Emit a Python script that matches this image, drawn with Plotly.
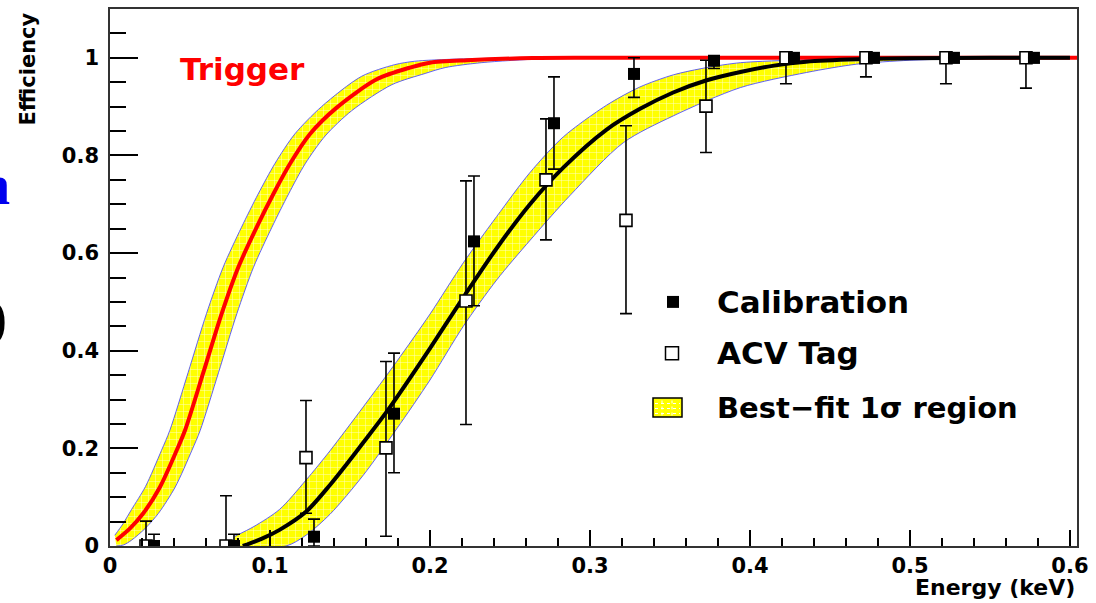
import plotly.graph_objects as go

# ---- Trigger efficiency fit (red) and its 1-sigma band edges ----
trig_e = [0.004, 0.0125, 0.0208, 0.03125, 0.0417, 0.0469, 0.0583, 0.0698, 0.0802,
          0.0917, 0.1021, 0.1125, 0.125, 0.1417, 0.1667, 0.1875, 0.2, 0.223,
          0.264, 0.3, 0.4, 0.5, 0.6044]
trig_eff = [0.012, 0.036, 0.067, 0.121, 0.196, 0.237, 0.355, 0.476, 0.571,
            0.653, 0.721, 0.783, 0.844, 0.898, 0.956, 0.98, 0.99, 0.995,
            0.9995, 1.0, 1.0, 1.0, 1.0]

trig_hi_e = [0.003, 0.008, 0.0135, 0.0222, 0.0322, 0.0374, 0.0488, 0.0603, 0.0707,
             0.0822, 0.0926, 0.103, 0.1155, 0.1322, 0.1572, 0.178, 0.1905, 0.213,
             0.25, 0.3, 0.6044]
trig_hi = [0.022, 0.045, 0.075, 0.122, 0.196, 0.237, 0.355, 0.476, 0.571,
           0.653, 0.721, 0.783, 0.844, 0.9, 0.962, 0.986, 0.993, 0.997,
           0.9995, 1.0, 1.0]

trig_lo_e = [0.004, 0.0083, 0.0135, 0.022, 0.0303, 0.0408, 0.0512, 0.0564, 0.0678,
             0.0793, 0.0897, 0.1012, 0.1116, 0.122, 0.1345, 0.1512, 0.1762, 0.197,
             0.2095, 0.232, 0.27, 0.3, 0.6044]
trig_lo = [0.0, 0.002, 0.012, 0.036, 0.067, 0.121, 0.196, 0.237, 0.355,
           0.476, 0.571, 0.653, 0.721, 0.783, 0.84, 0.892, 0.945, 0.968,
           0.98, 0.99, 0.998, 1.0, 1.0]

# ---- Best-fit efficiency curve (black) and its 1-sigma band edges ----
fit_e = [0.083, 0.095, 0.106, 0.1225, 0.1375, 0.148, 0.1583, 0.174, 0.2, 0.222,
         0.2417, 0.2625, 0.2833, 0.3104, 0.331, 0.352, 0.373, 0.394, 0.415, 0.435,
         0.467, 0.5, 0.55, 0.6]
fit_eff = [0.0, 0.015, 0.033, 0.07, 0.125, 0.168, 0.212, 0.28, 0.405, 0.515,
           0.61, 0.70, 0.775, 0.853, 0.895, 0.929, 0.954, 0.971, 0.984, 0.992,
           0.997, 0.999, 1.0, 1.0]

band_hi_e = [0.078, 0.09, 0.106, 0.1225, 0.1375, 0.1583, 0.1792, 0.2, 0.2208, 0.2417,
             0.2625, 0.2833, 0.3104, 0.331, 0.352, 0.373, 0.394, 0.435, 0.5, 0.6]
band_hi = [0.02, 0.04, 0.075, 0.135, 0.195, 0.285, 0.378, 0.475, 0.58, 0.675,
           0.765, 0.838, 0.903, 0.94, 0.965, 0.98, 0.99, 0.996, 1.0, 1.0]

band_lo_e = [0.078, 0.11, 0.1225, 0.1375, 0.1583, 0.1792, 0.2, 0.2208, 0.2417, 0.2625,
             0.2875, 0.3208, 0.352, 0.394, 0.4354, 0.4667, 0.5, 0.55, 0.6]
band_lo = [0.0, 0.0, 0.022, 0.065, 0.145, 0.24, 0.34, 0.45, 0.545, 0.626,
           0.718, 0.826, 0.881, 0.939, 0.97, 0.987, 0.995, 0.999, 1.0]

# ---- Measured points: value with lower / upper ends of the error bars ----
cal_e = [0.0275, 0.0775, 0.1275, 0.1775, 0.2275, 0.2775, 0.3275, 0.3775,
         0.4275, 0.4775, 0.5275, 0.5775]
cal_eff = [0.0, 0.0, 0.019, 0.271, 0.624, 0.866, 0.967, 0.994, 1.0, 1.0, 1.0, 1.0]
cal_top = [0.024, 0.024, 0.055, 0.395, 0.758, 0.961, 1.0, 1.0, 1.0, 1.0, 1.0, 1.0]
cal_bot = [0.0, 0.0, 0.0, 0.15, 0.492, 0.772, 0.919, 0.978, 0.99, 0.99, 0.99, 0.99]

acv_e = [0.0225, 0.0725, 0.1225, 0.1725, 0.2225, 0.2725, 0.3225, 0.3725,
         0.4225, 0.4725, 0.5225, 0.5725]
acv_eff = [0.0, 0.0, 0.181, 0.201, 0.502, 0.75, 0.667, 0.901, 1.0, 1.0, 1.0, 1.0]
acv_top = [0.051, 0.103, 0.298, 0.378, 0.748, 0.875, 0.861, 0.995, 1.0, 1.0, 1.0, 1.0]
acv_bot = [0.0, 0.0, 0.067, 0.02, 0.249, 0.627, 0.476, 0.806, 0.947, 0.961, 0.947, 0.938]

legend_labels = ["Calibration", "ACV Tag", "Best\u2212fit 1\u03c3 region"]
legend_sizes = [31, 31, 29]

YELLOW = "#ffff00"
EDGE = "rgba(70,70,255,0.85)"
FONT = "DejaVu Sans"

# frame geometry (pixels) used to place the in-frame legend box
W, H = 1096, 603
ML, MR, MT, MB = 110, 19, 7, 57
PW, PH = W - ML - MR, H - MT - MB


def px(x):
    return (x - ML) / PW


def py(y):
    return (H - MB - y) / PH


hatch = dict(shape="+", bgcolor=YELLOW, fgcolor="white", fgopacity=0.85,
             size=7, solidity=0.12, fillmode="replace")


def band(x_hi, y_hi, x_lo, y_lo):
    return go.Scatter(
        x=list(x_hi) + list(x_lo)[::-1],
        y=list(y_hi) + list(y_lo)[::-1],
        mode="lines", fill="toself", fillcolor=YELLOW, fillpattern=hatch,
        line=dict(color=EDGE, width=1, shape="spline", smoothing=0.8),
        hoverinfo="skip", showlegend=False,
    )


def errs(vals, top, bot):
    plus = [t - v for t, v in zip(top, vals)]
    minus = [v - b for v, b in zip(vals, bot)]
    return dict(type="data", symmetric=False, array=plus, arrayminus=minus,
                color="black", thickness=1.6, width=6)


fig = go.Figure()

fig.add_trace(band(trig_hi_e, trig_hi, trig_lo_e, trig_lo))
fig.add_trace(band(band_hi_e, band_hi, band_lo_e, band_lo))

fig.add_trace(go.Scatter(x=trig_e, y=trig_eff, mode="lines",
                         line=dict(color="#ff0000", width=4, shape="spline", smoothing=0.8),
                         showlegend=False, name="Trigger"))
fig.add_trace(go.Scatter(x=fit_e, y=fit_eff, mode="lines",
                         line=dict(color="black", width=4, shape="spline", smoothing=0.8),
                         showlegend=False, name="Best fit"))

fig.add_trace(go.Scatter(x=acv_e, y=acv_eff, mode="markers", error_y=errs(acv_eff, acv_top, acv_bot),
                         marker=dict(symbol="square", size=12, color="white",
                                     line=dict(color="black", width=1.6)),
                         showlegend=False, name="ACV Tag"))
fig.add_trace(go.Scatter(x=cal_e, y=cal_eff, mode="markers", error_y=errs(cal_eff, cal_top, cal_bot),
                         marker=dict(symbol="square", size=12, color="black"),
                         showlegend=False, name="Calibration"))

axis_common = dict(showgrid=False, zeroline=False, showline=True, mirror=True,
                   linecolor="#333333", linewidth=1.5, ticks="inside", tickcolor="black",
                   tickwidth=1.5, tickfont=dict(family=FONT, size=21, color="black", weight="bold"))

fig.update_xaxes(range=[0, 0.6044], dtick=0.1, tick0=0, ticklen=16, ticklabelstandoff=0,
                 minor=dict(dtick=0.02, ticklen=8, ticks="inside", tickcolor="black", tickwidth=1.5),
                 **axis_common)
fig.update_yaxes(range=[0, 1.1], dtick=0.2, tick0=0, ticklen=28, ticklabelstandoff=5,
                 minor=dict(dtick=0.05, ticklen=16, ticks="inside", tickcolor="black", tickwidth=1.5),
                 **axis_common)

# legend drawn inside the frame: symbols as small boxes, labels as text
leg_rows = [301, 352.5, 407]
leg_shapes = [
    dict(type="rect", xref="paper", yref="paper", x0=px(667), x1=px(679),
         y0=py(leg_rows[0] + 6), y1=py(leg_rows[0] - 6), fillcolor="black", line=dict(width=0)),
    dict(type="rect", xref="paper", yref="paper", x0=px(665.5), x1=px(678.5),
         y0=py(leg_rows[1] + 6.5), y1=py(leg_rows[1] - 6.5), fillcolor="white",
         line=dict(color="black", width=1.5)),
    dict(type="rect", xref="paper", yref="paper", x0=px(653), x1=px(682),
         y0=py(leg_rows[2] + 9.5), y1=py(leg_rows[2] - 9.5), fillcolor=YELLOW,
         line=dict(color="black", width=1.5)),
]
# faint white grid inside the band symbol
for gy in (-4, 1, 6):
    leg_shapes.append(dict(type="line", xref="paper", yref="paper", x0=px(655), x1=px(680),
                           y0=py(leg_rows[2] + gy), y1=py(leg_rows[2] + gy),
                           line=dict(color="white", width=1, dash="dot")))
for gx in (662, 672):
    leg_shapes.append(dict(type="line", xref="paper", yref="paper", x0=px(gx), x1=px(gx),
                           y0=py(leg_rows[2] + 8), y1=py(leg_rows[2] - 8),
                           line=dict(color="white", width=1, dash="dot")))

leg_texts = [dict(text=t, x=px(715), y=py(r), xref="paper", yref="paper", xanchor="left",
                  yanchor="middle", showarrow=False,
                  font=dict(family=FONT, size=s, color="black", weight="bold"))
             for t, r, s in zip(legend_labels, leg_rows, legend_sizes)]

fig.update_layout(
    width=W, height=H,
    margin=dict(l=ML, r=MR, t=MT, b=MB),
    paper_bgcolor="white", plot_bgcolor="white",
    showlegend=False,
    shapes=leg_shapes,
    annotations=leg_texts + [
        dict(text="Trigger", x=0.0425, y=0.9775, xref="x", yref="y", xanchor="left",
             yanchor="middle", showarrow=False,
             font=dict(family=FONT, size=31, color="#ff0000", weight="bold")),
        dict(text="Efficiency", x=px(28), y=py(9), xref="paper", yref="paper",
             xanchor="center", yanchor="top", textangle=-90, showarrow=False,
             font=dict(family=FONT, size=21, color="black", weight="bold")),
        dict(text="Energy (keV)", x=1.0, y=py(588), xref="paper", yref="paper",
             xanchor="right", yanchor="middle", showarrow=False,
             font=dict(family=FONT, size=22, color="black", weight="bold")),
        dict(text="n", x=px(12), y=py(184), xref="paper", yref="paper",
             xanchor="right", yanchor="middle", showarrow=False,
             font=dict(family="Liberation Serif", size=56, color="#0000ee", weight="bold")),
        dict(text=")", x=px(9), y=py(317), xref="paper", yref="paper",
             xanchor="right", yanchor="middle", showarrow=False,
             font=dict(family="Liberation Serif", size=54, color="black")),
    ],
)

fig.write_html("out.html")
